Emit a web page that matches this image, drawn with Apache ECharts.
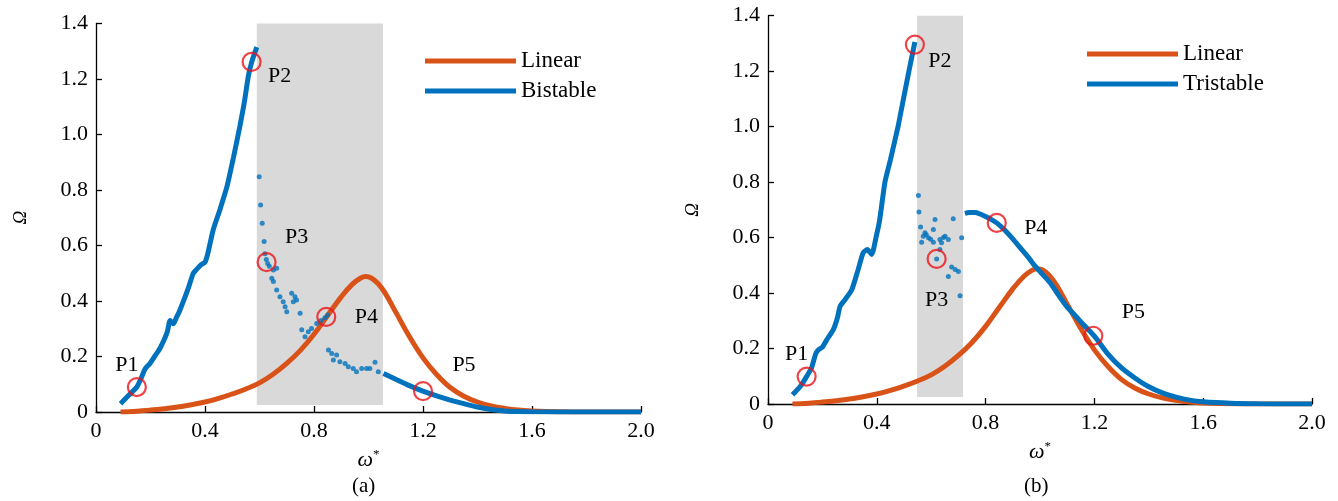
<!DOCTYPE html>
<html>
<head>
<meta charset="utf-8">
<script src="https://cdn.jsdelivr.net/npm/echarts@6/dist/echarts.min.js"></script>
<style>
html, body { margin: 0; padding: 0; background: #fff; }
#chart { width: 1338px; height: 501px; }
</style>
</head>
<body>
<div id="chart"></div>
<script>
// ---- data (ω*, Ω) ----
const linearCurve = [
  [0.09, 0.0], [0.15, 0.003], [0.2, 0.007], [0.25, 0.012], [0.3, 0.018], [0.35, 0.026],
  [0.4, 0.036], [0.45, 0.049], [0.5, 0.065], [0.55, 0.083], [0.6, 0.105], [0.65, 0.136],
  [0.7, 0.175], [0.75, 0.222], [0.8, 0.28], [0.85, 0.348], [0.9, 0.415], [0.94, 0.46],
  [0.97, 0.482], [0.99, 0.488], [1.01, 0.483], [1.035, 0.463], [1.06, 0.43], [1.1, 0.36],
  [1.15, 0.272], [1.2, 0.195], [1.25, 0.135], [1.3, 0.088], [1.35, 0.057], [1.4, 0.036],
  [1.45, 0.022], [1.5, 0.013], [1.55, 0.007], [1.6, 0.004], [1.7, 0.001], [1.8, 0.0], [2.0, 0.0]
];

const bistableLower = [
  [0.09, 0.03], [0.12, 0.06], [0.15, 0.09], [0.165, 0.12], [0.18, 0.155], [0.198, 0.175],
  [0.215, 0.2], [0.235, 0.23], [0.25, 0.26], [0.262, 0.29], [0.272, 0.33], [0.284, 0.318],
  [0.295, 0.34], [0.308, 0.367], [0.325, 0.41], [0.34, 0.45], [0.357, 0.5], [0.37, 0.515],
  [0.385, 0.53], [0.4, 0.54], [0.41, 0.57], [0.43, 0.656], [0.455, 0.73], [0.48, 0.81],
  [0.505, 0.92], [0.528, 1.03], [0.545, 1.12], [0.559, 1.21], [0.571, 1.26], [0.59, 1.315]
];
const bistableScatter = [
  [0.599, 0.848], [0.604, 0.746], [0.61, 0.68], [0.617, 0.614], [0.62, 0.57], [0.625, 0.55],
  [0.63, 0.535], [0.636, 0.525], [0.651, 0.512], [0.663, 0.518], [0.645, 0.482], [0.651, 0.47],
  [0.663, 0.44], [0.675, 0.415], [0.687, 0.397], [0.694, 0.379], [0.7, 0.361], [0.718, 0.428],
  [0.73, 0.415], [0.724, 0.397], [0.736, 0.404], [0.749, 0.356], [0.755, 0.296], [0.767, 0.271],
  [0.779, 0.289], [0.791, 0.301], [0.81, 0.319], [0.825, 0.33], [0.84, 0.34], [0.85, 0.35],
  [0.853, 0.223], [0.865, 0.211], [0.871, 0.187], [0.883, 0.205], [0.895, 0.181], [0.914, 0.175],
  [0.926, 0.163], [0.944, 0.157], [0.956, 0.145], [0.975, 0.157], [0.993, 0.157], [1.005, 0.157],
  [1.024, 0.179], [1.036, 0.145]
];
const bistableUpper = [
  [1.055, 0.139], [1.1, 0.118], [1.15, 0.095], [1.2, 0.075], [1.25, 0.058], [1.3, 0.043],
  [1.35, 0.03], [1.4, 0.018], [1.45, 0.009], [1.5, 0.004], [1.55, 0.002], [1.6, 0.001],
  [1.8, 0.0], [2.0, 0.0]
];
const bistablePoints = [[0.15, 0.09], [0.571, 1.262], [0.626, 0.54], [0.845, 0.343], [1.2, 0.075]];

const tristableLower = [
  [0.09, 0.033], [0.12, 0.065], [0.142, 0.099], [0.16, 0.13], [0.175, 0.18], [0.185, 0.195],
  [0.2, 0.205], [0.216, 0.231], [0.24, 0.268], [0.255, 0.31], [0.265, 0.352], [0.283, 0.376],
  [0.308, 0.412], [0.33, 0.48], [0.35, 0.545], [0.365, 0.557], [0.381, 0.539], [0.397, 0.6],
  [0.41, 0.66], [0.43, 0.8], [0.45, 0.88], [0.478, 1.0], [0.5, 1.11], [0.518, 1.2], [0.54, 1.305]
];
const tristableScatter = [
  [0.553, 0.752], [0.555, 0.692], [0.614, 0.665], [0.681, 0.668], [0.561, 0.638], [0.608, 0.629],
  [0.577, 0.617], [0.571, 0.605], [0.59, 0.599], [0.565, 0.583], [0.608, 0.583], [0.632, 0.593],
  [0.651, 0.605], [0.663, 0.593], [0.712, 0.599], [0.638, 0.581], [0.632, 0.557], [0.62, 0.523],
  [0.675, 0.494], [0.688, 0.485], [0.7, 0.478], [0.663, 0.46], [0.706, 0.39], [0.582, 0.61],
  [0.598, 0.594], [0.645, 0.6]
];
const tristableUpper = [
  [0.724, 0.687], [0.74, 0.69], [0.761, 0.69], [0.78, 0.685], [0.798, 0.677], [0.82, 0.666],
  [0.841, 0.653], [0.87, 0.627], [0.9, 0.595], [0.93, 0.56], [0.96, 0.525], [0.982, 0.497],
  [1.0, 0.477], [1.037, 0.437], [1.07, 0.39], [1.098, 0.352], [1.13, 0.318], [1.16, 0.286],
  [1.2, 0.245], [1.25, 0.18], [1.3, 0.13], [1.35, 0.093], [1.4, 0.062], [1.45, 0.04],
  [1.5, 0.025], [1.55, 0.014], [1.6, 0.008], [1.7, 0.003], [1.8, 0.001], [2.0, 0.0]
];
const tristablePoints = [[0.142, 0.099], [0.54, 1.296], [0.62, 0.523], [0.841, 0.653], [1.196, 0.246]];

const pointNames = ['P1', 'P2', 'P3', 'P4', 'P5'];
const bistableBand = [0.59, 1.053];
const tristableBand = [0.548, 0.717];
const bandBottom = 0.025;
const xTickLabels = ['0', '0.4', '0.8', '1.2', '1.6', '2.0'];
const yTickLabels = ['0', '0.2', '0.4', '0.6', '0.8', '1.0', '1.2', '1.4'];

// ---- styling ----
const FONT = '"Liberation Serif", "Times New Roman", serif';
const INK = '#000';
const ORANGE = '#d95319';
const BLUE = '#0072bd';
const RED = '#e8141c';
const BAND = '#d9d9d9';

// label offsets (px) of P1..P5 relative to their circles
const bistableLabelOffsets = [[-10, -22], [28, 14], [30, -25], [40, 0], [41, -26]];
const tristableLabelOffsets = [[-10, -22], [25, 17], [0, 41], [39, 5], [40, -24]];

function axisX(gridIndex) {
  return {
    type: 'value', gridIndex, min: 0, max: 2, interval: 0.4,
    name: '{w|ω}{s|*}', nameLocation: 'middle', nameGap: 36,
    nameTextStyle: {
      rich: {
        w: { fontFamily: FONT, fontStyle: 'italic', fontSize: 22, color: INK },
        s: { fontFamily: FONT, fontSize: 13, color: INK, verticalAlign: 'top', padding: [0, 0, 12, 0] }
      }
    },
    axisLine: { show: true, lineStyle: { color: INK, width: 1.3 } },
    axisTick: { show: true, inside: true, length: 6, lineStyle: { color: INK, width: 1.3 } },
    axisLabel: {
      fontFamily: FONT, fontSize: 22, color: INK, margin: 8,
      formatter: v => xTickLabels[Math.round(v / 0.4)]
    },
    splitLine: { show: false }
  };
}

function axisY(gridIndex) {
  return {
    type: 'value', gridIndex, min: 0, max: 1.4, interval: 0.2,
    name: 'Ω', nameLocation: 'middle', nameRotate: 90, nameGap: 66,
    nameTextStyle: { fontFamily: FONT, fontStyle: 'italic', fontSize: 19, color: INK },
    axisLine: { show: true, lineStyle: { color: INK, width: 1.3 } },
    axisTick: { show: true, inside: true, length: 6, lineStyle: { color: INK, width: 1.3 } },
    axisLabel: {
      fontFamily: FONT, fontSize: 22, color: INK, margin: 8,
      formatter: v => yTickLabels[Math.round(v / 0.2)]
    },
    splitLine: { show: false }
  };
}

function panelSeries(idx, name, lower, scatter, upper, points, band, offsets) {
  const base = { xAxisIndex: idx, yAxisIndex: idx };
  return [
    {
      ...base, type: 'line', name: 'band' + idx, data: [], silent: true, z: 1,
      markArea: {
        silent: true,
        itemStyle: { color: BAND },
        data: [[{ coord: [band[0], bandBottom] }, { coord: [band[1], 1.4] }]]
      }
    },
    {
      ...base, type: 'line', name: 'Linear', data: linearCurve, smooth: 0.4,
      showSymbol: false, lineStyle: { color: ORANGE, width: 5 }, itemStyle: { color: ORANGE }, z: 3
    },
    {
      ...base, type: 'line', name: name, data: lower, smooth: 0.2,
      showSymbol: false, lineStyle: { color: BLUE, width: 5 }, itemStyle: { color: BLUE }, z: 4
    },
    {
      ...base, type: 'line', name: name + ' upper', data: upper, smooth: 0.3,
      showSymbol: false, lineStyle: { color: BLUE, width: 5 }, itemStyle: { color: BLUE }, z: 4
    },
    {
      ...base, type: 'scatter', name: name + ' unstable', data: scatter,
      symbolSize: 5, itemStyle: { color: BLUE }, z: 4
    },
    {
      ...base, type: 'scatter', name: name + ' points',
      data: points.map(p => p),
      symbol: 'circle', symbolSize: 18,
      itemStyle: { color: 'rgba(0,0,0,0)', borderColor: RED, borderWidth: 2.2 },
      z: 6
    },
    {
      // point names, placed beside each circle
      ...base, type: 'scatter', name: name + ' names',
      data: points.map((p, i) => ({
        value: p,
        label: { offset: offsets[i], formatter: pointNames[i] }
      })),
      symbolSize: 0, silent: true, z: 7,
      label: {
        show: true, position: 'inside', fontFamily: FONT, fontSize: 22,
        color: INK, textBorderWidth: 0, opacity: 1
      }
    }
  ];
}

function legend(left, top, name) {
  return {
    data: ['Linear', name], orient: 'vertical', left, top, padding: 0,
    icon: 'rect', itemWidth: 91, itemHeight: 5, itemGap: 4, itemTextGap: 8,
    selectedMode: false,
    textStyle: { fontFamily: FONT, fontSize: 23, color: INK, lineHeight: 26 }
  };
}

const chart = echarts.init(document.getElementById('chart'));
chart.setOption({
  animation: false,
  backgroundColor: '#fff',
  grid: [
    { left: 96, top: 23.5, width: 545, height: 388.5 },
    { left: 768, top: 15.7, width: 544, height: 388.3 }
  ],
  xAxis: [axisX(0), axisX(1)],
  yAxis: [axisY(0), axisY(1)],
  legend: [legend(425, 48, 'Bistable'), legend(1087, 41, 'Tristable')],
  graphic: [
    { type: 'text', left: 352, top: 476, style: { text: '(a)', font: '21px ' + FONT, fill: INK } },
    { type: 'text', left: 1024, top: 476, style: { text: '(b)', font: '21px ' + FONT, fill: INK } }
  ],
  series: [
    ...panelSeries(0, 'Bistable', bistableLower, bistableScatter, bistableUpper, bistablePoints, bistableBand, bistableLabelOffsets),
    ...panelSeries(1, 'Tristable', tristableLower, tristableScatter, tristableUpper, tristablePoints, tristableBand, tristableLabelOffsets)
  ]
});
</script>
</body>
</html>
